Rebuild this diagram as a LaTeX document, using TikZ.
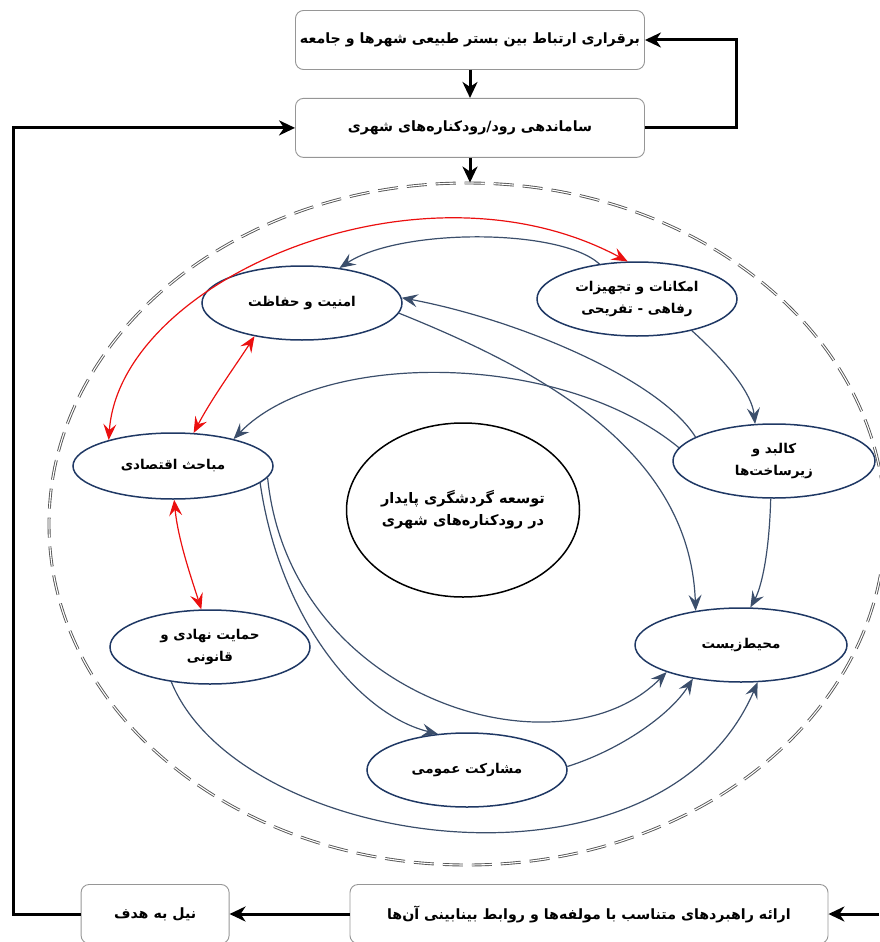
\documentclass[tikz,border=0pt]{standalone}
\usepackage{fontspec}
\newfontfamily\arabicfont[Script=Arabic]{DejaVu Sans}
\TeXXeTstate=1
\usepackage{tikz}
\usetikzlibrary{shapes.geometric,arrows.meta,positioning}
\definecolor{navy}{RGB}{31,56,100}
\definecolor{slate}{RGB}{59,78,107}
\definecolor{boxgray}{RGB}{150,150,150}
\definecolor{ringgray}{RGB}{85,85,85}
\definecolor{linkred}{RGB}{235,15,15}
\newcommand{\fa}[1]{\arabicfont\bfseries\beginR #1\endR}
\tikzstyle{box}=[rectangle,rounded corners=8pt,draw=boxgray,line width=0.9pt,
  minimum width=349pt,minimum height=59pt,inner sep=0pt,
  font=\fontsize{14.2}{18}\selectfont]
\tikzstyle{factor}=[ellipse,draw=navy,line width=1.5pt,minimum width=200pt,
  minimum height=74pt,inner sep=0pt,align=center,
  font=\fontsize{13.5}{22}\selectfont]
\tikzstyle{boundary}=[ellipse,draw=ringgray,dashed,double,line width=0.9pt,
  double distance=1.1pt,dash pattern=on 20pt off 9pt,
  minimum width=836pt,minimum height=682pt]
\tikzstyle{link}=[-{Stealth[length=16pt,width=13pt,inset=6pt]},color=slate,line width=1.2pt]
\tikzstyle{redlink}=[{Stealth[length=16pt,width=13pt,inset=6pt]}-{Stealth[length=16pt,width=13pt,inset=6pt]},
  color=linkred,line width=1.2pt]
\tikzstyle{flow}=[-{Stealth[length=16pt,width=15pt,inset=5pt]},line width=3pt,black]
\begin{document}
\begin{tikzpicture}[x=1pt,y=-1pt]
  \useasboundingbox (0,0) rectangle (879,942);

  % Cadres du haut et du bas
  \node[box] (ertebat) at (470,40) {\fa{برقراری ارتباط بین بستر طبیعی شهرها و جامعه}};
  \node[box, below=28pt of ertebat] (samandehi) {\fa{ساماندهی رود/رودکناره‌های شهری}};
  \node[box, minimum width=478pt] (rahbord) at (589,914) {\fa{ارائه راهبردهای متناسب با مولفه‌ها و روابط بینابینی آن‌ها}};
  \node[box, minimum width=148pt, left=120pt of rahbord] (hadaf) {\fa{نیل به هدف}};

  % Ellipse en pointilles
  \node[boundary] (ring) at (467,524) {};

  % Composantes
  \node[factor] (amniat)     at (302,303) {\fa{امنیت و حفاظت}};
  \node[factor] (emkanat)    at (637,299) {\fa{امکانات و تجهیزات}\\\fa{رفاهی - تفریحی}};
  \node[factor, minimum width=202pt] (kalbad) at (774,461) {\fa{کالبد و}\\\fa{زیرساخت‌ها}};
  \node[factor, minimum height=66pt] (eqtesad) at (173,466) {\fa{مباحث اقتصادی}};
  \node[factor] (hemayat)    at (210,647) {\fa{حمایت نهادی و}\\\fa{قانونی}};
  \node[factor] (mosharekat) at (467,770) {\fa{مشارکت عمومی}};
  \node[factor, minimum width=212pt] (mohit) at (741,645) {\fa{محیط‌زیست}};
  \node[factor, draw=black, minimum width=233pt, minimum height=174pt,
    font=\fontsize{14.5}{22}\selectfont] (tosee) at (463,510)
    {\fa{توسعه گردشگری پایدار}\\\fa{در رودکناره‌های شهری}};

  % Fleches principales
  \draw[flow] (ertebat) -- (samandehi);
  \draw[flow] (samandehi.south) -- (samandehi.south |- ring.north);
  \draw[flow] (samandehi.east) -- ++(92,0) |- (ertebat.east);
  \coordinate (rin) at (879,914);
  \draw[flow] (rin) -- (rahbord.east);
  \draw[flow] (rahbord) -- (hadaf);
  \draw[flow] (hadaf.west) -- ++(-67,0) |- (samandehi.west);

  % Relations entre composantes
  \draw[link] (emkanat.137) .. controls (560,228) and (400,228) .. (amniat.43);
  \draw[link] (kalbad.163) .. controls (660,380) and (520,320) .. (amniat.3);
  \draw[link] (kalbad.172) .. controls (560,350) and (320,350) .. (eqtesad.24);
  \draw[link] (amniat.354) .. controls (540,370) and (690,450) .. (mohit.143);
  \draw[link] (emkanat.330) .. controls (730,365) and (752,395) .. (kalbad.117);
  \draw[link] (kalbad.265) .. controls (769,560) and (760,590) .. (mohit.76);
  \draw[link] (eqtesad.349) .. controls (280,620) and (360,715) .. (mosharekat.129);
  \draw[link] (eqtesad.353) .. controls (290,700) and (560,780) .. (mohit.200);
  \draw[link] (mosharekat.2) .. controls (620,750) and (670,715) .. (mohit.215);
  \draw[link] (hemayat.222) .. controls (240,850) and (660,910) .. (mohit.294);

  % Relations rouges
  \draw[redlink] (eqtesad.158) .. controls (120,280) and (420,150) .. (emkanat.104);
  \draw[redlink] (amniat.215) .. controls (236,365) and (212,398) .. (eqtesad.58);
  \draw[redlink] (eqtesad.272) .. controls (178,540) and (192,580) .. (hemayat.103);

\end{tikzpicture}
\end{document}
